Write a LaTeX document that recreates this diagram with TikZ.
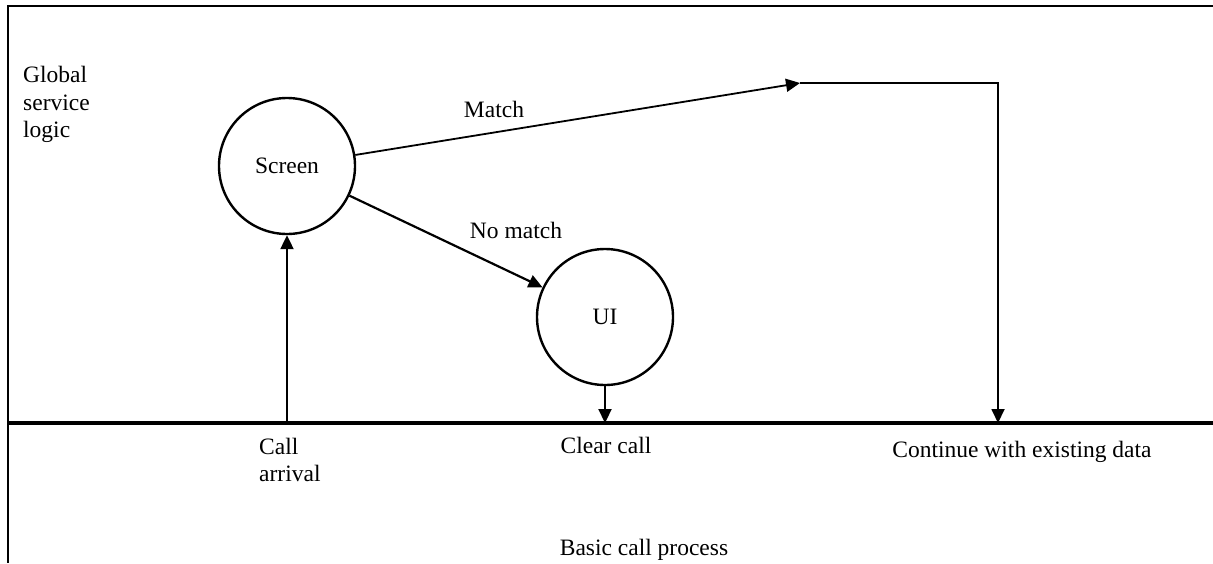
\documentclass[tikz,border=0pt]{standalone}
\usepackage{fontspec}
\setmainfont{Liberation Serif}
\usetikzlibrary{arrows.meta}
\begin{document}
\begin{tikzpicture}[x=1pt,y=-1pt,
  lbl/.style={font=\fontsize{23.5}{27.5}\selectfont,inner sep=0pt},
  state/.style={circle,draw,line width=2.4pt,minimum size=136pt,inner sep=0pt,font=\fontsize{23.5}{27.5}\selectfont},
  conn/.style={line width=2.2pt,-{Triangle[length=14pt,width=13pt]}},
  frame/.style={line width=2pt}]
\useasboundingbox (0,0) rectangle (1213,563);
% frame
\coordinate (tl) at (7.5,6);
\coordinate (tr) at (1213,6);
\coordinate (bl) at (7.5,563);
\coordinate (dl) at (7.5,423);
\coordinate (dr) at (1213,423);
\draw[frame] (tr) -- (tl) -- (bl);
\draw[line width=3.3pt] (dl) -- (dr);
% states
\node[state] (screen) at (287,166) {Screen};
\node[state] (ui) at (605,317) {UI};
% coordinates
\coordinate (ca) at (287,423);
\coordinate (cc) at (605,423);
\coordinate (m) at (800,83);
\coordinate (mc) at (998,83);
\coordinate (cd) at (998,423);
% connectors
\draw[conn] (ca) -- (screen);
\draw[conn] (screen) -- (ui);
\draw[conn] (ui) -- (cc);
\draw[conn,line width=1.8pt] (screen) -- (m);
\draw[conn,line width=1.8pt] (m) -- (mc) -- (cd);
% labels
\node[lbl,anchor=base west,align=left] (gsl) at (23,137.5) {Global\\service\\logic};
\node[lbl,anchor=base] (match) at (494,117) {Match};
\node[lbl,anchor=base] (nomatch) at (516,238) {No match};
\node[lbl,anchor=base west,align=left] (arr) at (259,481.5) {Call\\arrival};
\node[lbl,anchor=base] (clr) at (606,453) {Clear call};
\node[lbl,anchor=base] (cont) at (1022,457) {Continue with existing data};
\node[lbl,anchor=base] (bcp) at (644,555) {Basic call process};
\end{tikzpicture}
\end{document}
